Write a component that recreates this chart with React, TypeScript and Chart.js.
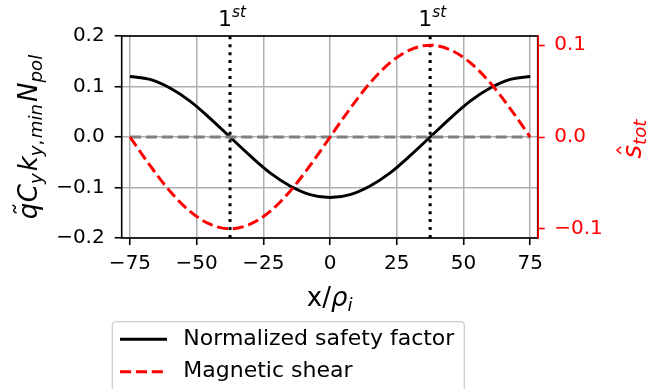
import { useEffect, useRef } from 'react';
import { Chart, registerables } from 'chart.js';

Chart.register(...registerables);

// ---- data ----
const X_VALUES = [-75, -67.5, -60, -52.5, -45, -37.5, -30, -22.5, -15, -7.5, 0, 7.5, 15, 22.5, 30, 37.5, 45, 52.5, 60, 67.5, 75];
const SAFETY_FACTOR = [0.12, 0.114, 0.097, 0.071, 0.037, 0.0, -0.037, -0.071, -0.097, -0.114, -0.12, -0.114, -0.097, -0.071, -0.037, 0.0, 0.037, 0.071, 0.097, 0.114, 0.12];
const MAGNETIC_SHEAR = [0.0, -0.031, -0.059, -0.081, -0.095, -0.1, -0.095, -0.081, -0.059, -0.031, 0.0, 0.031, 0.059, 0.081, 0.095, 0.1, 0.095, 0.081, 0.059, 0.031, 0.0];
const ZERO_LINE_X = [-75, 75];
const RESONANCE_X = [-37.5, 37.5];
const X_TICKS = [-75, -50, -25, 0, 25, 50, 75];
const Y_TICKS = [-0.2, -0.1, 0, 0.1, 0.2];
const Y2_TICKS = [-0.1, 0, 0.1];
const X_LIMITS = [-78.1, 77.8];
const Y_LIMITS = [-0.2, 0.2];
const Y2_LIMITS = [-0.11, 0.11];
const LEGEND_LABELS = ['Normalized safety factor', 'Magnetic shear'];
const RESONANCE_LABEL = ['1', 'st'];

const FONT = '"DejaVu Sans"';

const fmt = (v: number, d: number) => {
  const r = Math.abs(v) < 1e-9 ? 0 : v;
  return (r < 0 ? '\u2212' : '') + Math.abs(r).toFixed(d);
};

type Seg = { t: string; size: number; italic: boolean; dy: number; gap?: number };

function segWidth(ctx: CanvasRenderingContext2D, segs: Seg[]) {
  let w = 0;
  for (const s of segs) {
    ctx.font = `${s.italic ? 'italic ' : ''}${s.size}px ${FONT}`;
    w += ctx.measureText(s.t).width + (s.gap || 0);
  }
  return w;
}

function drawSegs(ctx: CanvasRenderingContext2D, segs: Seg[], x0: number, y0: number) {
  let x = x0;
  const starts: number[] = [];
  for (const s of segs) {
    ctx.font = `${s.italic ? 'italic ' : ''}${s.size}px ${FONT}`;
    starts.push(x);
    ctx.fillText(s.t, x, y0 + s.dy);
    x += ctx.measureText(s.t).width + (s.gap || 0);
  }
  return starts;
}

const overlayPlugin = {
  id: 'overlay',
  afterDraw(chart: any) {
    const { ctx, chartArea: ca, scales } = chart;
    ctx.save();
    // spines
    ctx.lineWidth = 1.6;
    ctx.strokeStyle = '#000';
    ctx.strokeRect(ca.left, ca.top, ca.right - ca.left, ca.bottom - ca.top);
    ctx.strokeStyle = '#ff0000';
    ctx.beginPath();
    ctx.moveTo(ca.right + 0.5, ca.top - 0.8);
    ctx.lineTo(ca.right + 0.5, ca.bottom + 0.8);
    ctx.stroke();

    ctx.textBaseline = 'alphabetic';
    ctx.textAlign = 'left';

    // resonance labels "1^st"
    ctx.fillStyle = '#000';
    for (const rx of RESONANCE_X) {
      const px = scales.x.getPixelForValue(rx);
      const segs: Seg[] = [
        { t: RESONANCE_LABEL[0], size: 22, italic: false, dy: 0 },
        { t: RESONANCE_LABEL[1], size: 15.4, italic: true, dy: -9 },
      ];
      const w = segWidth(ctx, segs);
      drawSegs(ctx, segs, px + 2 - w / 2, 26);
    }

    // x axis title
    {
      const segs: Seg[] = [
        { t: 'x/', size: 26, italic: false, dy: 0 },
        { t: '\u03c1', size: 26, italic: true, dy: 0 },
        { t: 'i', size: 18.2, italic: true, dy: 5 },
      ];
      const w = segWidth(ctx, segs);
      drawSegs(ctx, segs, (ca.left + ca.right) / 2 - w / 2, 306);
    }

    // left y title
    {
      ctx.save();
      ctx.translate(37, (ca.top + ca.bottom) / 2);
      ctx.rotate(-Math.PI / 2);
      const segs: Seg[] = [
        { t: 'q', size: 26, italic: true, dy: 0, gap: 0.5 },
        { t: 'C', size: 26, italic: true, dy: 0 },
        { t: 'y', size: 18.2, italic: true, dy: 5, gap: 2 },
        { t: 'k', size: 26, italic: true, dy: 0 },
        { t: 'y', size: 18.2, italic: true, dy: 5 },
        { t: ',', size: 18.2, italic: false, dy: 5, gap: 1.5 },
        { t: 'min', size: 18.2, italic: true, dy: 5, gap: 2 },
        { t: 'N', size: 26, italic: true, dy: 0 },
        { t: 'pol', size: 18.2, italic: true, dy: 5 },
      ];
      const w = segWidth(ctx, segs);
      const starts = drawSegs(ctx, segs, -w / 2, 0);
      ctx.font = `italic 26px ${FONT}`;
      const qw = ctx.measureText('q').width;
      const cx = starts[0] + qw / 2 + 2;
      ctx.strokeStyle = '#000';
      ctx.lineWidth = 1.5;
      ctx.beginPath();
      ctx.moveTo(cx - 4, -20.5);
      ctx.quadraticCurveTo(cx - 2, -25, cx, -22.5);
      ctx.quadraticCurveTo(cx + 2, -20, cx + 4, -24.5);
      ctx.stroke();
      ctx.restore();
    }

    // right y title
    {
      ctx.save();
      ctx.fillStyle = '#ff0000';
      ctx.strokeStyle = '#ff0000';
      ctx.translate(641, (ca.top + ca.bottom) / 2 + 2);
      ctx.rotate(-Math.PI / 2);
      const segs: Seg[] = [
        { t: 's', size: 26, italic: true, dy: 0 },
        { t: 'tot', size: 18.2, italic: true, dy: 5 },
      ];
      const w = segWidth(ctx, segs);
      const starts = drawSegs(ctx, segs, -w / 2, 0);
      ctx.font = `italic 26px ${FONT}`;
      const sw = ctx.measureText('s').width;
      const cx = starts[0] + sw / 2 + 1.5;
      ctx.lineWidth = 1.5;
      ctx.beginPath();
      ctx.moveTo(cx - 3.5, -20);
      ctx.lineTo(cx, -24);
      ctx.lineTo(cx + 3.5, -20);
      ctx.stroke();
      ctx.restore();
    }

    // legend
    {
      const lx = 112.3, ly = 321.7, lw = 352, lh = 100, r = 4;
      ctx.fillStyle = 'rgba(255,255,255,0.8)';
      ctx.strokeStyle = '#cccccc';
      ctx.lineWidth = 1.2;
      ctx.beginPath();
      ctx.moveTo(lx + r, ly);
      ctx.lineTo(lx + lw - r, ly);
      ctx.quadraticCurveTo(lx + lw, ly, lx + lw, ly + r);
      ctx.lineTo(lx + lw, ly + lh);
      ctx.lineTo(lx, ly + lh);
      ctx.lineTo(lx, ly + r);
      ctx.quadraticCurveTo(lx, ly, lx + r, ly);
      ctx.closePath();
      ctx.fill();
      ctx.stroke();

      const rows = [339.3, 371.7];
      const styles = [
        { color: '#000000', dash: [] as number[] },
        { color: '#ff0000', dash: [11.1, 4.8] },
      ];
      for (let i = 0; i < 2; i++) {
        ctx.strokeStyle = styles[i].color;
        ctx.lineWidth = 3;
        ctx.setLineDash(styles[i].dash);
        ctx.beginPath();
        ctx.moveTo(120, rows[i]);
        ctx.lineTo(167, rows[i]);
        ctx.stroke();
        ctx.setLineDash([]);
        ctx.fillStyle = '#000';
        ctx.font = `22px ${FONT}`;
        ctx.textBaseline = 'middle';
        ctx.fillText(LEGEND_LABELS[i], 183.3, rows[i]);
      }
    }
    ctx.restore();
  },
};

export default function App() {
  const ref = useRef<HTMLCanvasElement>(null);
  useEffect(() => {
    if (!ref.current) return;
    const pts = (ys: number[]) => X_VALUES.map((x, i) => ({ x, y: ys[i] }));
    const chart = new Chart(ref.current, {
      type: 'line',
      data: {
        datasets: [
          {
            label: LEGEND_LABELS[1],
            data: pts(MAGNETIC_SHEAR),
            yAxisID: 'y2',
            borderColor: '#ff0000',
            borderWidth: 3,
            borderDash: [11.1, 4.8],
            pointRadius: 0,
            cubicInterpolationMode: 'monotone',
            fill: false,
          },
          {
            label: 'zero',
            data: ZERO_LINE_X.map((x) => ({ x, y: 0 })),
            yAxisID: 'y',
            borderColor: '#808080',
            borderWidth: 3,
            borderDash: [11.1, 4.8],
            pointRadius: 0,
            fill: false,
          },
          {
            label: LEGEND_LABELS[0],
            data: pts(SAFETY_FACTOR),
            yAxisID: 'y',
            borderColor: '#000000',
            borderWidth: 3,
            pointRadius: 0,
            cubicInterpolationMode: 'monotone',
            fill: false,
          },
          ...RESONANCE_X.map((rx) => ({
            label: 'res',
            data: Y_LIMITS.map((y) => ({ x: rx, y })),
            yAxisID: 'y',
            borderColor: '#000000',
            borderWidth: 3,
            borderDash: [3, 4.95],
            borderCapStyle: 'butt' as const,
            pointRadius: 0,
            fill: false,
          })),
        ],
      },
      options: {
        animation: false,
        responsive: false,
        devicePixelRatio: 1,
        layout: { padding: { top: 36, left: 0, right: 0, bottom: 0 } },
        plugins: { legend: { display: false }, tooltip: { enabled: false } },
        scales: {
          x: {
            type: 'linear',
            min: X_LIMITS[0],
            max: X_LIMITS[1],
            afterBuildTicks: (s: any) => { s.ticks = X_TICKS.map((value) => ({ value })); },
            afterFit: (s: any) => { s.height = 389 - 238; },
            border: { display: false },
            grid: { color: '#b0b0b0', lineWidth: 1.5, tickColor: '#000', tickLength: 7, tickWidth: 1.6 },
            ticks: {
              padding: 7,
              color: '#000',
              maxRotation: 0,
              font: { family: 'DejaVu Sans', size: 20 },
              callback: (v: any) => fmt(Number(v), 0),
            },
          },
          y: {
            type: 'linear',
            position: 'left',
            min: Y_LIMITS[0],
            max: Y_LIMITS[1],
            afterBuildTicks: (s: any) => { s.ticks = Y_TICKS.map((value) => ({ value })); },
            afterFit: (s: any) => { s.width = 121.7; },
            border: { display: false },
            grid: { color: '#b0b0b0', lineWidth: 1.5, tickColor: '#000', tickLength: 7, tickWidth: 1.6 },
            ticks: {
              padding: 10,
              color: '#000',
              font: { family: 'DejaVu Sans', size: 20 },
              callback: (v: any) => fmt(Number(v), 1),
            },
          },
          y2: {
            type: 'linear',
            position: 'right',
            min: Y2_LIMITS[0],
            max: Y2_LIMITS[1],
            afterBuildTicks: (s: any) => { s.ticks = Y2_TICKS.map((value) => ({ value })); },
            afterFit: (s: any) => { s.width = 648 - 537.7; },
            border: { display: false },
            grid: { drawOnChartArea: false, tickColor: '#ff0000', tickLength: 7, tickWidth: 1.6 },
            ticks: {
              padding: 9.5,
              color: '#ff0000',
              font: { family: 'DejaVu Sans', size: 20 },
              callback: (v: any) => fmt(Number(v), 1),
            },
          },
        },
      },
      plugins: [overlayPlugin],
    });
    return () => chart.destroy();
  }, []);

  return (
    <div style={{ position: 'absolute', left: 0, top: 0, width: 648, height: 389, background: '#fff' }}>
      <canvas ref={ref} width={648} height={389} style={{ display: 'block' }} />
    </div>
  );
}
